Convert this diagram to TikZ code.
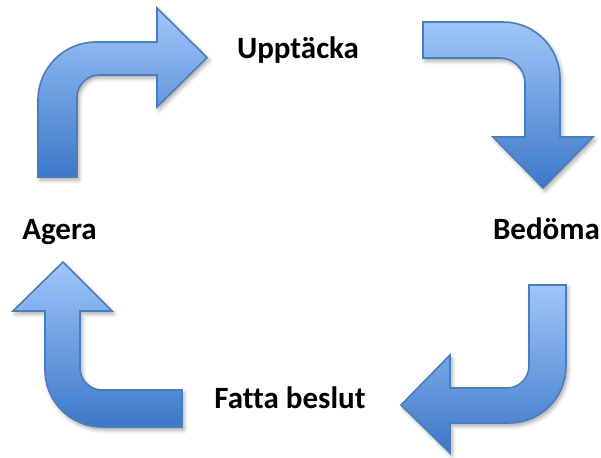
\documentclass[tikz,border=0pt]{standalone}
\usepackage{fontspec}
\setmainfont{Carlito}[Ligatures=NoCommon]
\usetikzlibrary{shadows.blur}
\definecolor{arrtop}{RGB}{160,198,250}
\definecolor{arrbot}{RGB}{60,120,200}
\definecolor{arredge}{RGB}{74,126,187}
\tikzset{
  bentarrow/.style={draw=arredge, line width=1.6pt, line join=miter,
    top color=arrtop, bottom color=arrbot,
    blur shadow={shadow xshift=2pt, shadow yshift=-3pt, shadow blur radius=4pt, shadow opacity=35}},
  lbl/.style={font=\fontsize{31}{37}\selectfont\bfseries, text=black, anchor=base, inner sep=0pt}
}
\begin{document}
\begin{tikzpicture}[x=1pt,y=-1pt]
\useasboundingbox (0,0) rectangle (601,457);
% Arrow 1 (top-left)
\path[bentarrow] (38,177) -- (38,100) .. controls (38,68) and (64,42) .. (96,42) -- (157,42) -- (157,8) -- (207,57.5) -- (157,107) -- (157,75) -- (99,75) .. controls (87,75) and (77,85) .. (77,97) -- (77,177) -- cycle;
% Arrow 2 (top-right)
\path[bentarrow] (423,22) -- (503,22) .. controls (534.5,22) and (560,47.5) .. (560,79) -- (560,137) -- (593,137) -- (543,188) -- (493,137) -- (525,137) -- (525,83) .. controls (525,69.2) and (513.8,58) .. (500,58) -- (423,58) -- cycle;
% Arrow 3 (bottom-right)
\path[bentarrow] (529,285) -- (566,285) -- (566,366) .. controls (566,397.5) and (540.5,423) .. (509,423) -- (450,423) -- (450,453) -- (401,405) -- (450,355) -- (450,388) -- (507,388) .. controls (519,388) and (529,378) .. (529,366) -- cycle;
% Arrow 4 (bottom-left)
\path[bentarrow] (182,390) -- (182,427) -- (102,427) .. controls (70.5,427) and (45,401.5) .. (45,370) -- (45,311) -- (13,311) -- (63,262) -- (112,311) -- (80,311) -- (80,368) .. controls (80,380) and (90,390) .. (102,390) -- cycle;
% Labels
\node[lbl] (upp) at (298,59) {Upptäcka};
\node[lbl] (bed) at (546.5,239) {Bedöma};
\node[lbl] (agera) at (59.5,239) {Agera};
\node[lbl] (fatta) at (290,408) {Fatta beslut};
\end{tikzpicture}
\end{document}
